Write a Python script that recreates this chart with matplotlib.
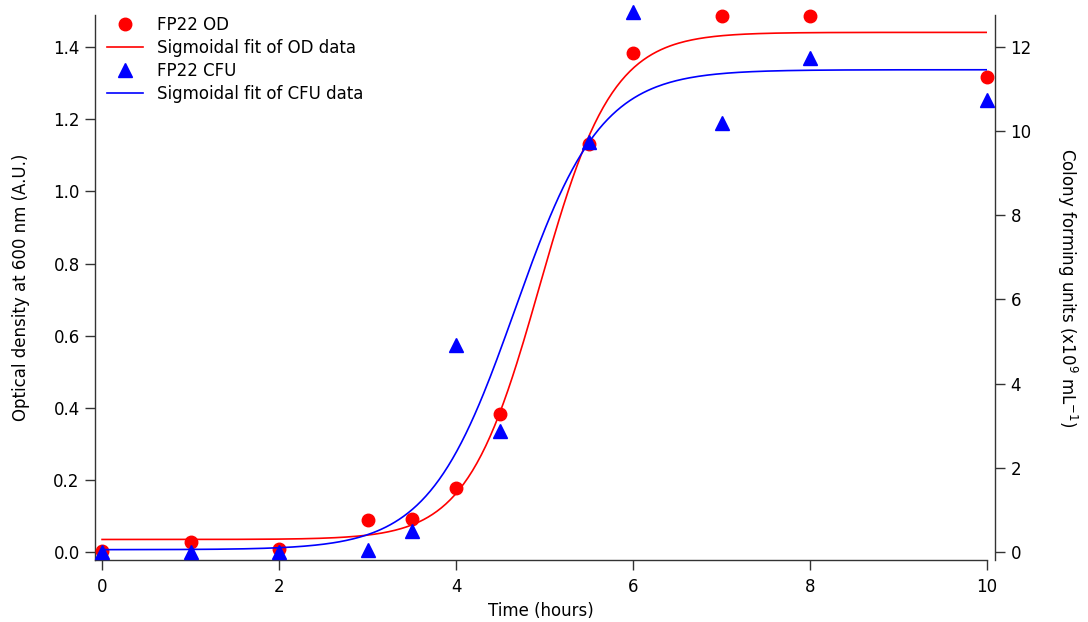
import numpy as np
import matplotlib
matplotlib.use("Agg")
import matplotlib.pyplot as plt

# data
time_h = [0, 1, 2, 3, 3.5, 4, 4.5, 5.5, 6, 7, 8, 10]
od600 = [0.003, 0.028, 0.008, 0.090, 0.092, 0.178, 0.383, 1.130, 1.383, 1.487, 1.487, 1.317]
cfu = [0.0, 0.0, 0.0, 0.05, 0.50, 4.92, 2.87, 9.74, 12.83, 10.19, 11.73, 10.74]

od_ticks = [0.0, 0.2, 0.4, 0.6, 0.8, 1.0, 1.2, 1.4]
cfu_ticks = [0, 2, 4, 6, 8, 10, 12]
time_ticks = [0, 2, 4, 6, 8, 10]


def sigmoid(x, base, top, xhalf, rate):
    return base + top / (1 + np.exp((xhalf - x) / rate))


def sigmoid_fit(x, y):
    # Igor style sigmoid: base + max/(1+exp((xhalf-x)/rate))
    # grid over xhalf/rate, base and max solved by linear least squares
    x = np.asarray(x, float)
    y = np.asarray(y, float)
    xh, r = np.meshgrid(np.linspace(3, 7, 801), np.linspace(0.05, 1.5, 291), indexing='ij')
    s = 1 / (1 + np.exp((xh[..., None] - x) / r[..., None]))
    sm = s.mean(-1)
    ym = y.mean()
    m = ((s - sm[..., None]) * (y - ym)).sum(-1) / ((s - sm[..., None]) ** 2).sum(-1)
    b = ym - m * sm
    res = ((b[..., None] + m[..., None] * s - y) ** 2).sum(-1)
    i = np.unravel_index(np.argmin(res), res.shape)
    return b[i], m[i], xh[i], r[i]


od_par = sigmoid_fit(time_h, od600)
cfu_par = sigmoid_fit(time_h, cfu)
xfit = np.linspace(0, 10, 400)

plt.rcParams['font.family'] = ['DejaVu Sans']
plt.rcParams['font.size'] = 12

fig = plt.figure(figsize=(10.88, 6.22), dpi=100)
ax = fig.add_axes([95 / 1088, 62 / 622, 892 / 1088, 545 / 622])
ax2 = ax.twinx()

l1, = ax.plot(time_h, od600, 'o', color='#ff0000', ms=9, clip_on=False, zorder=5, label='FP22 OD')
l2, = ax.plot(xfit, sigmoid(xfit, *od_par), '-', color='#ff0000', lw=1.2, label='Sigmoidal fit of OD data')
l3, = ax2.plot(time_h, cfu, '^', color='#0000ff', ms=9.5, clip_on=False, zorder=5, label='FP22 CFU')
l4, = ax2.plot(xfit, sigmoid(xfit, *cfu_par), '-', color='#0000ff', lw=1.2, label='Sigmoidal fit of CFU data')

ax.set_xlim(-0.08, 10)
ax.set_ylim(-0.022, 1.489)
ax2.set_ylim(-0.19, 12.76)
ax.set_xticks(time_ticks)
ax.set_yticks(od_ticks)
ax.set_yticklabels(['%.1f' % v for v in od_ticks])
ax2.set_yticks(cfu_ticks)

for a in (ax, ax2):
    a.spines['top'].set_visible(False)
    for sp in a.spines.values():
        sp.set_color('#333333')
        sp.set_linewidth(1.0)
ax.spines['right'].set_visible(False)
ax2.spines['left'].set_visible(False)
ax2.spines['bottom'].set_visible(False)
ax2.spines['right'].set_position(('outward', 6))

ax.tick_params(axis='both', direction='out', length=7, width=1, color='#333333', pad=4, labelsize=12)
ax.tick_params(axis='x', pad=6)
ax2.tick_params(axis='y', direction='out', length=7, width=1, color='#333333', pad=4, labelsize=12)

ax.set_xlabel('Time (hours)', fontsize=12, labelpad=4)
ax.set_ylabel('Optical density at 600 nm (A.U.)', fontsize=12, labelpad=17)
ax2.set_ylabel(r'Colony forming units (x10$^{9}$ mL$^{-1}$)', fontsize=12, rotation=270, labelpad=34)

ax.legend(handles=[l1, l2, l3, l4], loc='upper left', bbox_to_anchor=(0.0, 1.02), frameon=False,
          fontsize=12, handlelength=2.2, handletextpad=0.8, labelspacing=0.3, borderaxespad=0.3)

plt.savefig('out.png', dpi=100)
